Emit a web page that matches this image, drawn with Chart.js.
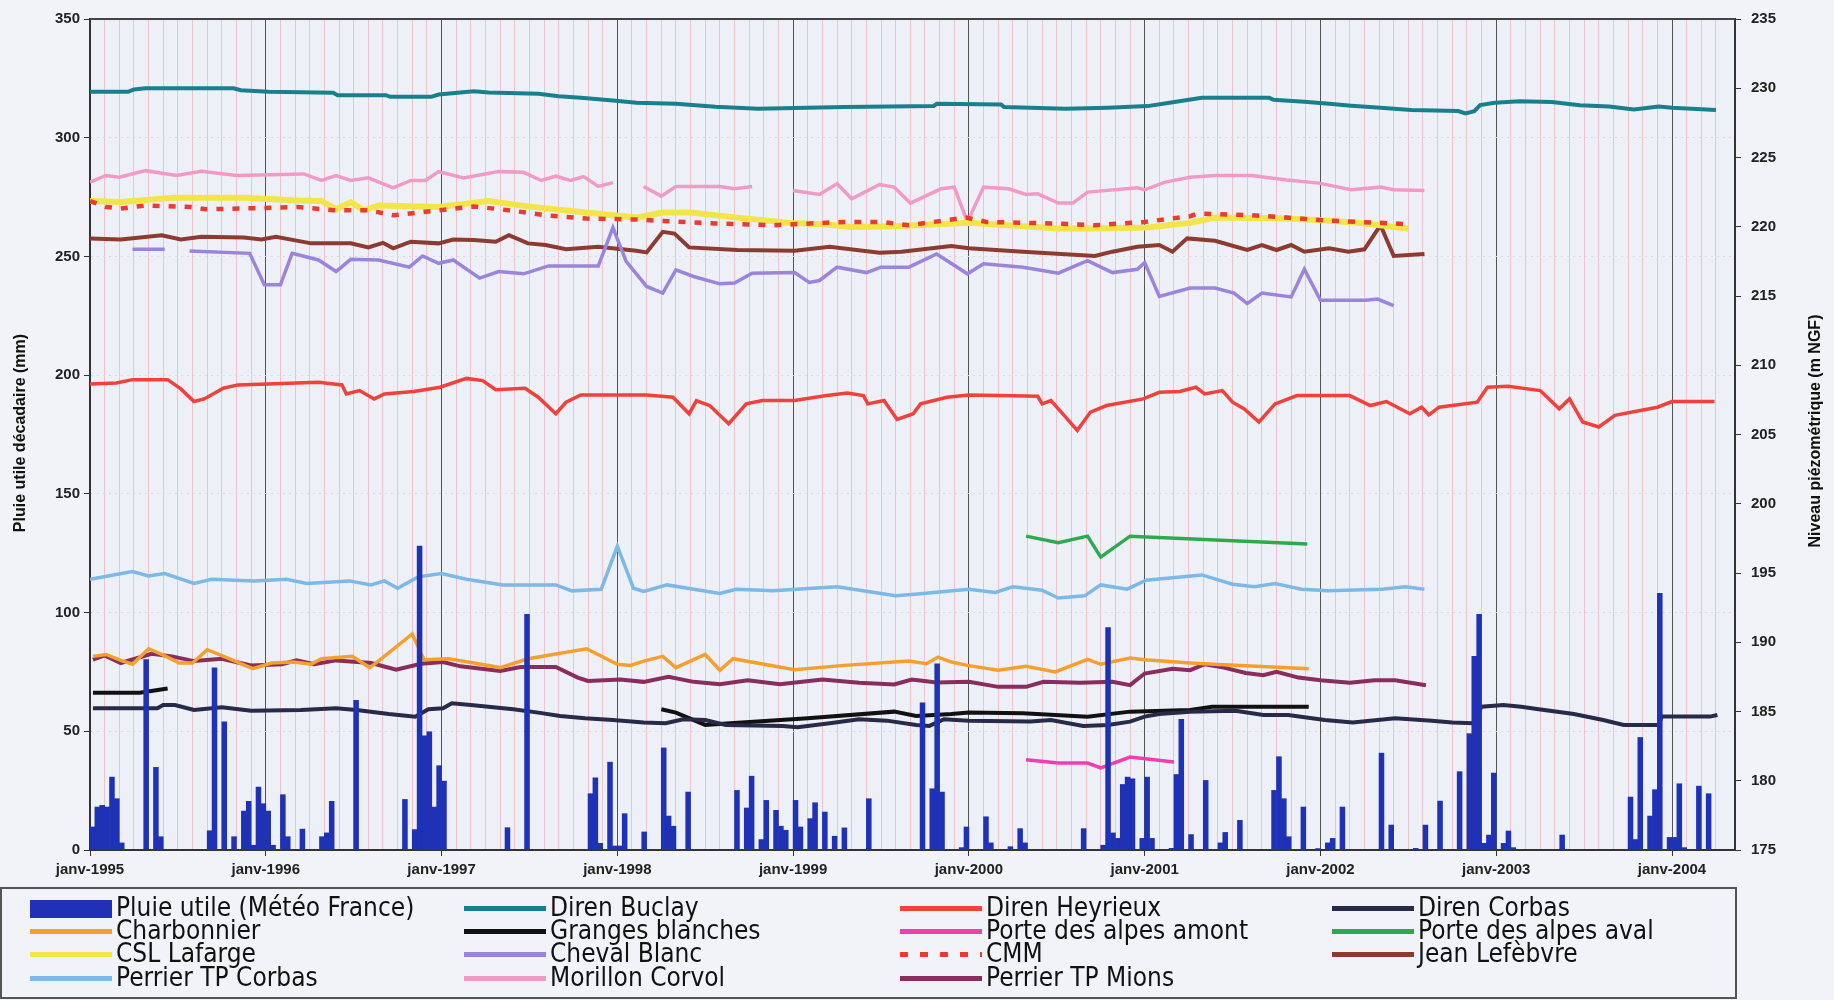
<!DOCTYPE html>
<html>
<head>
<meta charset="utf-8">
<script src="https://cdn.jsdelivr.net/npm/chart.js@4.4.1/dist/chart.umd.min.js"></script>
<style>
  html, body { margin: 0; padding: 0; background: #f2f3f8; }
  #wrap { position: relative; width: 1834px; height: 1000px; }
  #chart { position: absolute; left: 0; top: 0; }
  #legend { position: absolute; left: 0; top: 887px; width: 1737px; height: 112px; box-sizing: border-box;
            border: 2px solid #555; font-family: "Liberation Sans Narrow", "DejaVu Sans Condensed", sans-serif;
            font-size: 26px; color: #111; }
  .item { position: absolute; height: 26px; line-height: 26px; white-space: nowrap; }
  .sw { display: inline-block; vertical-align: middle; width: 82px; margin-right: 4px; }
</style>
</head>
<body>
<div id="wrap">
  <canvas id="chart" width="1834" height="1000"></canvas>
  <div id="legend"></div>
</div>
<script>
// x unit = months since janv-1995 ; rain is per dekad (10 days)
const rainDekad = [0,1,2,3,4,5,6,11,13,14,24,25,27,29,31,32,33,34,35,36,37,39,40,43,47,48,49,54,
  64,66,67,68,69,70,71,72,85,89,102,103,104,106,107,108,109,113,117,118,119,122,
  132,134,135,137,138,140,141,142,144,145,147,148,150,152,154,159,170,172,173,174,178,179,183,184,188,190,191,
  203,207,208,209,210,211,212,213,215,216,217,221,222,223,225,228,231,232,235,242,243,244,245,248,251,253,254,256,
  264,266,271,273,276,280,282,283,284,285,286,287,289,290,291,301,315,316,317,319,320,321,323,324,325,326,329,331];
const rainMm = [9.7,18.1,18.8,18.1,30.7,21.6,3,80.2,34.8,5.6,8.1,76.7,54,5.6,16.4,20.5,2,26.5,19.5,16.4,2,23.3,5.6,8.8,5.6,7.2,20.5,63,
  21.3,8.6,128,48.1,49.8,18.1,35.5,29,9.4,99.3,23.7,30.4,2.8,37,1.7,1.7,15.3,7.6,43,14.3,10,24.4,
  25.1,17.7,31.1,4.4,20.9,16.7,10,8.3,20.9,9.7,13.2,19.9,16,5.8,9.3,21.6,62,25.8,78.4,24.4,1,9.7,14,3,1.4,9,3,
  9,2,93.7,7.2,4.9,27.6,30.7,30,4.9,30.7,4.9,0.7,31.8,55,6.5,29.3,3,7.4,12.5,25.1,39.3,21.6,5.6,18.1,0.6,3,4.9,18.1,
  40.8,10.5,0.7,10.5,20.6,33,49,81.6,99.3,2.8,6.3,32.4,2.8,8,1,6.3,22.3,4.4,47.4,14.3,25.4,108.1,5.3,5.3,27.9,1,26.9,23.7];

const buclayM = [0,2.6,3,3.8,9.8,10.3,12.2,16.6,16.9,20.2,20.5,23.3,23.8,26.2,27.2,30.6,32,33.5,35.7,37.3,40,42.7,45.6,51.5,57.6,57.8,62.2,62.4,66.6,69.5,72.2,73.7,75.9,80.5,80.8,82.9,84.6,86.1,88.1,90.2,93.4,93.9,94.5,94.9,95.9,97.6,99.8,101.7,103.7,105.4,107.1,108,111];
const buclayV = [229.74,229.74,229.91,230.0,230.0,229.86,229.74,229.67,229.5,229.5,229.38,229.38,229.55,229.79,229.69,229.6,229.43,229.31,229.12,228.95,228.88,228.67,228.52,228.64,228.71,228.88,228.83,228.64,228.52,228.59,228.71,228.95,229.31,229.31,229.17,229.02,228.88,228.74,228.59,228.43,228.35,228.19,228.35,228.78,228.95,229.07,229.0,228.78,228.69,228.47,228.69,228.59,228.43];

const heyrieuxM = [0,1.8,2.9,5.3,6.2,7.1,7.8,9.1,10.1,14.1,15.6,17.2,17.5,18.4,19.4,20.1,22.1,23.9,25.7,26.8,27.7,29.7,30.6,31.8,32.5,33.5,38,39.8,40.9,41.4,42.3,43.6,44.8,45.9,48.1,50.3,51.7,52.8,53.1,54.2,55.1,56.2,56.7,58.5,60,62.1,64.7,65,65.6,66.5,67.4,68.3,69.4,71.9,73,74.4,75.5,76.1,77.3,78,78.8,79.8,80.9,82.4,86,87.4,88.5,90.1,90.9,91.4,92.1,94.7,95.4,96.8,99,100.3,101,101.9,103,104.1,107,108,110.9];
const heyrieuxV = [208.65,208.72,208.96,208.96,208.29,207.38,207.57,208.34,208.58,208.72,208.77,208.58,207.93,208.17,207.57,207.93,208.1,208.41,209.05,208.89,208.24,208.34,207.69,206.5,207.33,207.86,207.86,207.69,206.5,207.45,207.09,205.78,207.21,207.45,207.45,207.81,208.0,207.81,207.21,207.45,206.09,206.5,207.21,207.69,207.86,207.81,207.76,207.21,207.45,206.38,205.3,206.62,207.09,207.57,208.05,208.1,208.41,207.93,208.17,207.33,206.85,205.9,207.21,207.81,207.81,207.09,207.38,206.5,206.97,206.42,206.97,207.33,208.41,208.48,208.17,206.85,207.57,205.9,205.54,206.38,206.97,207.38,207.38];

const corbasM = [0.2,4.6,5,5.8,7.1,9,11,14.4,16.8,18.2,20.4,22.2,23.1,24.1,24.7,26,28.9,30.6,32.1,33.8,35.7,37.8,39.3,40.5,42,43.4,47.3,48.3,50.5,52.5,54.4,56.4,57.3,58.3,60,64.2,65.6,67.8,69.5,71,72,73,75.1,78.2,80.1,81.8,84.3,86.2,89.1,91.6,93,94.4,95,96.5,97.7,98.9,101.3,103.3,104.7,107.1,107.3,110.6,111.1];
const corbasV = [185.23,185.23,185.47,185.47,185.11,185.3,185.06,185.11,185.23,185.11,184.82,184.63,185.16,185.23,185.59,185.47,185.16,184.92,184.68,184.51,184.39,184.2,184.15,184.44,184.39,184.03,183.96,183.87,184.15,184.44,184.34,184.03,183.96,184.44,184.34,184.27,184.39,183.96,184.03,184.27,184.63,184.82,184.99,185.06,184.75,184.75,184.39,184.2,184.51,184.34,184.2,184.15,185.35,185.47,185.35,185.16,184.82,184.39,184.03,184.03,184.63,184.63,184.75];

const charbonnierM = [0.2,1.1,2.1,2.9,4,4.9,6.1,7,8,9.5,11.1,12.4,13.9,15.1,15.8,17.9,19.1,19.6,22,22.8,24.5,26.2,28,29.9,33.9,36,36.9,37.8,39.1,40,42,43,43.9,48.1,51.5,55.9,57.1,57.9,58.8,59.9,62,63.9,65.9,68.1,69,71,72,75.1,76,83.2];
const charbonnierV = [188.98,189.12,188.69,188.41,189.53,189.12,188.5,188.5,189.46,188.81,188.09,188.5,188.57,188.41,188.81,188.98,188.17,188.57,190.6,188.74,188.81,188.5,188.17,188.81,189.53,188.41,188.33,188.64,188.98,188.17,189.12,187.98,188.81,188.02,188.33,188.64,188.45,188.93,188.57,188.33,187.98,188.26,187.86,188.76,188.41,188.86,188.74,188.5,188.45,188.09];

const grangesM = [0.2,3.4,5.3,20,39,40,42,43.7,49,54.9,56.4,58.8,60,63.7,68.1,71,75.1,76.6,83.2];
const grangesV = [186.35,186.35,186.66,null,185.16,184.92,184.03,184.15,184.51,184.99,184.68,184.82,184.92,184.87,184.63,184.99,185.11,185.35,185.35];

const amontM = [63.9,66.1,68.1,69,71,74];
const amontV = [181.52,181.28,181.28,180.93,181.71,181.36];

const avalM = [63.9,66.1,68.1,69,71,83.1];
const avalV = [197.66,197.18,197.66,196.15,197.66,197.1];

const lafargeM = [0,2.1,5.7,10.5,14.2,15.8,16.8,17.8,18.7,19.7,23.8,27.2,29.9,33.5,37.3,39.1,41,44.2,47.8,50.3,52,54.9,60,66.1,68.6,72.2,75.1,76.8,81.7,84.1,86.6,90];
const lafargeV = [221.86,221.78,222.09,222.09,221.9,221.86,221.26,221.78,221.19,221.54,221.43,221.86,221.47,221.07,220.66,221.02,221.02,220.66,220.28,220.16,219.99,220.04,220.28,219.87,219.87,219.94,220.28,220.66,220.59,220.47,220.28,219.87];

const chevalM = [2.9,5.1,6,6.8,10.9,11.9,13,13.8,15.6,16.8,17.8,19.7,21.8,22.7,23.8,24.8,26.6,27.9,29.6,31.3,34.7,35.7,36.6,38,39.1,40,41.2,43,44,45.2,48.1,49.1,49.8,51,53,54,55.9,57.8,59.9,61,63.7,66.1,68.1,69.8,71.5,72,73,75.1,76.8,78.1,79,80,82,82.9,84,87.1,87.9,89];
const chevalV = [218.37,218.37,null,218.25,218.08,215.81,215.81,218.08,217.6,216.77,217.65,217.6,217.08,217.89,217.36,217.6,216.29,216.77,216.6,217.17,217.17,219.94,217.5,215.69,215.21,216.89,216.41,215.88,215.93,216.65,216.69,215.98,216.12,217.08,216.69,217.08,217.08,218.03,216.6,217.32,217.08,216.65,217.55,216.69,216.93,217.41,214.97,215.57,215.57,215.21,214.45,215.21,214.93,216.93,214.69,214.69,214.78,214.3];

const cmmM = [0,1.1,2.1,3.8,6.9,7.9,11.7,14.2,16.6,19,20.7,23.8,26.2,28.6,31.1,33.9,37.3,41.7,46.6,51.5,54,55.9,59.8,61.2,66.1,68.6,72,75.1,75.6,79.3,81.7,84.1,88.1,90.2];
const cmmV = [221.86,221.43,221.31,221.54,221.43,221.26,221.35,221.43,221.19,221.19,220.83,221.19,221.47,221.19,220.83,220.59,220.52,220.28,220.11,220.35,220.35,220.11,220.66,220.35,220.23,220.11,220.35,220.76,220.95,220.83,220.66,220.47,220.28,220.18];

const lefebvreM = [0,2.1,4.9,6.2,7.6,10.5,11.7,12.7,15.1,17.8,19,20,20.7,21.9,23.8,24.8,26.2,27.7,28.6,29.9,31.1,32.5,34.7,37.3,38,39.1,39.9,40.9,44.2,48.1,50.5,53.9,55.4,58.8,60,63.7,68.6,69.8,71.5,73,73.9,74.9,76.8,79,80,81,82,82.9,84.6,85.9,87,88.1,89,91.1];
const lefebvreV = [219.16,219.08,219.39,219.08,219.27,219.23,219.08,219.27,218.8,218.8,218.51,218.84,218.44,218.92,218.8,219.08,219.04,218.92,219.39,218.8,218.68,218.37,218.56,218.27,218.15,219.63,219.51,218.51,218.32,218.27,218.56,218.13,218.2,218.61,218.44,218.2,217.89,218.2,218.56,218.68,218.2,219.16,218.99,218.32,218.68,218.32,218.68,218.2,218.44,218.2,218.37,220.11,217.89,218.03];

const perrierCorbasM = [0,2.9,4,5.1,7.1,8.3,11.2,13.4,14.8,17.7,19.2,20.1,21,22.4,24,25.7,28.2,31.8,32.9,34.9,36,37.1,37.8,39.4,43,44.1,46.6,51,55,56.3,60,61.8,63,65,66.1,67.9,69,70.8,72.1,75.9,78,79.5,80.9,82.7,84.5,88.2,89.8,91.1];
const perrierCorbasV = [194.55,195.1,194.79,194.96,194.24,194.55,194.43,194.55,194.24,194.43,194.14,194.43,193.9,194.72,194.96,194.55,194.14,194.14,193.71,193.83,196.94,193.9,193.67,194.14,193.52,193.83,193.71,194.0,193.35,193.47,193.83,193.59,194.0,193.76,193.19,193.35,194.14,193.83,194.48,194.86,194.19,194.0,194.24,193.83,193.71,193.83,194.0,193.83];

const corvolM = [0,1.1,2,3.8,5.9,7.6,10,14.6,15.8,16.8,17.8,19,20.7,21.9,22.9,23.8,25.5,27.9,29.6,30.8,31.8,32.8,33.7,34.7,35.7,36.7,37.8,39,40,43,44,45.2,46.5,48,49.8,51,52,53.9,54.9,56,58.1,59,59.9,61,62.7,63.9,64.7,66.1,67.1,68.1,71.5,72,73.4,75.1,76.8,79.3,81.7,83.9,86.1,88.1,89,91.1];
const corvolV = [223.22,223.7,223.58,224.05,223.7,224.01,223.7,223.81,223.34,223.7,223.34,223.53,222.81,223.34,223.34,223.98,223.53,223.98,223.93,223.34,223.65,223.34,223.62,222.91,223.19,null,222.91,222.21,222.91,222.91,222.74,222.91,null,222.62,222.33,223.1,222.02,223.05,222.86,221.71,222.74,222.86,220.35,222.86,222.74,222.33,222.38,221.71,221.71,222.5,222.81,222.67,223.22,223.58,223.7,223.7,223.38,223.15,222.67,222.86,222.67,222.62];

const mionsM = [0.2,1,2.1,4.2,5.6,7.1,9,11,13.1,14.1,15.3,16.8,19.2,20.9,22.6,24.1,25.3,28,29.4,31.8,33.3,34,36.2,37.8,39.5,41.2,43,44.9,47.1,50,52.5,54.9,56.1,57.8,60,62,63.9,65.1,67.6,69.8,71,72,73.9,75.1,76.1,77.4,78.9,80.1,81,82.5,84,86,87.7,89.1,91.2];
const mionsV = [188.74,189.05,188.5,189.17,188.98,188.64,188.81,188.33,188.41,188.69,188.41,188.69,188.5,188.02,188.45,188.57,188.26,187.93,188.21,188.21,187.45,187.21,187.31,187.14,187.5,187.14,186.97,187.26,186.97,187.31,187.07,186.95,187.31,187.09,187.14,186.78,186.78,187.14,187.07,187.14,186.9,187.74,188.09,187.98,188.41,188.17,187.78,187.62,187.86,187.45,187.26,187.07,187.26,187.26,186.9];

const yearLabels = ['janv-1995','janv-1996','janv-1997','janv-1998','janv-1999','janv-2000','janv-2001','janv-2002','janv-2003','janv-2004'];

const pts = (m, v) => m.map((x, i) => ({ x: x, y: v[i] }));
const lvl = (label, m, v, color, width, extra) => Object.assign({
  type: 'line', label: label, data: pts(m, v), yAxisID: 'y2', borderColor: color, backgroundColor: color,
  borderWidth: width, pointRadius: 0, tension: 0, fill: false, spanGaps: false, order: 2
}, extra || {});

const datasets = [
  { type: 'bar', label: 'Pluie utile (Météo France)', yAxisID: 'y', order: 0,
    data: rainDekad.map((d, i) => ({ x: (d + 0.5) / 3, y: rainMm[i] })),
    backgroundColor: '#1f32b5', borderWidth: 0, barPercentage: 1, categoryPercentage: 1 },
  lvl('Diren Buclay', buclayM, buclayV, '#17808c', 4),
  lvl('Diren Heyrieux', heyrieuxM, heyrieuxV, '#f0423a', 3.5),
  lvl('Diren Corbas', corbasM, corbasV, '#272a48', 4),
  lvl('Charbonnier', charbonnierM, charbonnierV, '#f5a02e', 3.5),
  lvl('Granges blanches', grangesM, grangesV, '#111111', 4),
  lvl('Porte des alpes amont', amontM, amontV, '#ee3fae', 3.5),
  lvl('Porte des alpes aval', avalM, avalV, '#2daa4e', 3.5),
  lvl('CSL Lafarge', lafargeM, lafargeV, '#f1e54a', 6),
  lvl('Cheval Blanc', chevalM, chevalV, '#9a84dc', 3.5),
  lvl('CMM', cmmM, cmmV, '#ec3a2e', 4.5, { borderDash: [7, 9], order: 1 }),
  lvl('Jean Lefèbvre', lefebvreM, lefebvreV, '#8d3b31', 4),
  lvl('Perrier TP Corbas', perrierCorbasM, perrierCorbasV, '#7cb9e6', 3.5),
  lvl('Morillon Corvol', corvolM, corvolV, '#f29ac6', 3.5),
  lvl('Perrier TP Mions', mionsM, mionsV, '#8a2c5c', 4)
];

const tickFont = { family: '"Liberation Sans Narrow", "Liberation Sans"', size: 15, weight: 'bold' };

const frame = {
  id: 'frame',
  beforeDraw(chart) {
    const a = chart.chartArea, c = chart.ctx;
    c.save();
    c.fillStyle = '#eef0f8';
    c.fillRect(a.left, a.top, a.right - a.left, a.bottom - a.top);
    c.restore();
  },
  afterDraw(chart) {
    const a = chart.chartArea, c = chart.ctx;
    c.save();
    c.strokeStyle = '#444';
    c.lineWidth = 2;
    c.beginPath();
    c.moveTo(a.left, a.top); c.lineTo(a.right, a.top);
    c.stroke();
    c.fillStyle = '#111';
    c.font = 'bold 16px "Liberation Sans"';
    c.textAlign = 'center';
    c.textBaseline = 'middle';
    c.translate(21, 433); c.rotate(-Math.PI / 2);
    c.fillText('Pluie utile décadaire (mm)', 0, 0);
    c.restore();
    c.save();
    c.fillStyle = '#111';
    c.font = 'bold 16px "Liberation Sans"';
    c.textAlign = 'center';
    c.textBaseline = 'middle';
    c.translate(1816, 431); c.rotate(-Math.PI / 2);
    c.fillText('Niveau piézométrique (m NGF)', 0, 0);
    c.restore();
  }
};

const chart = new Chart(document.getElementById('chart'), {
  type: 'bar',
  data: { datasets: datasets },
  options: {
    responsive: false,
    animation: false,
    layout: { padding: { top: 14, left: 0, right: 0, bottom: 0 } },
    plugins: { legend: { display: false }, tooltip: { enabled: false } },
    scales: {
      x: {
        type: 'linear', min: 0, max: 112.3, offset: false,
        afterFit: s => { s.height = 150; },
        ticks: {
          stepSize: 1, autoSkip: false, maxRotation: 0, minRotation: 0, padding: 5,
          font: tickFont, color: '#222',
          callback: v => (v % 12 === 0 ? yearLabels[v / 12] : '')
        },
        grid: {
          offset: false,
          color: c => (c.tick && c.tick.value % 12 === 0 ? '#555' : '#eec3cc'),
          lineWidth: 1, tickLength: 6,
          tickColor: c => (c.tick && c.tick.value % 12 === 0 ? '#333' : 'rgba(0,0,0,0)')
        },
        border: { color: '#333', width: 2 }
      },
      y: {
        position: 'left', min: 0, max: 350,
        afterFit: s => { s.width = 90; },
        ticks: { stepSize: 50, font: tickFont, color: '#222', padding: 4 },
        grid: { color: '#d9d9e3', tickColor: '#333', tickLength: 6 },
        border: { color: '#333', width: 2, dash: [2, 4] }
      },
      y2: {
        position: 'right', min: 175, max: 235,
        afterFit: s => { s.width = 99; },
        ticks: { stepSize: 5, font: tickFont, color: '#222', padding: 10 },
        grid: { drawOnChartArea: false, tickColor: '#333', tickLength: 6 },
        border: { color: '#333', width: 2 }
      }
    }
  },
  plugins: [frame]
});

// legend laid out like the original: 4 columns, filled row by row
const colX = [30, 464, 900, 1332];
const rowY = [5, 28, 51, 75];
const box = document.getElementById('legend');
chart.data.datasets.forEach((ds, i) => {
  const item = document.createElement('div');
  item.className = 'item';
  item.style.left = (colX[i % 4] - 2) + 'px';
  item.style.top = rowY[Math.floor(i / 4)] + 'px';
  const sw = document.createElement('span');
  sw.className = 'sw';
  if (ds.type === 'bar') {
    sw.style.height = '18px';
    sw.style.background = ds.backgroundColor;
  } else if (ds.borderDash) {
    sw.style.height = '5px';
    sw.style.background = 'repeating-linear-gradient(to right, ' + ds.borderColor + ' 0 8px, transparent 8px 20px)';
  } else {
    sw.style.height = '5px';
    sw.style.background = ds.borderColor;
  }
  item.appendChild(sw);
  item.appendChild(document.createTextNode(ds.label));
  box.appendChild(item);
});
</script>
</body>
</html>
